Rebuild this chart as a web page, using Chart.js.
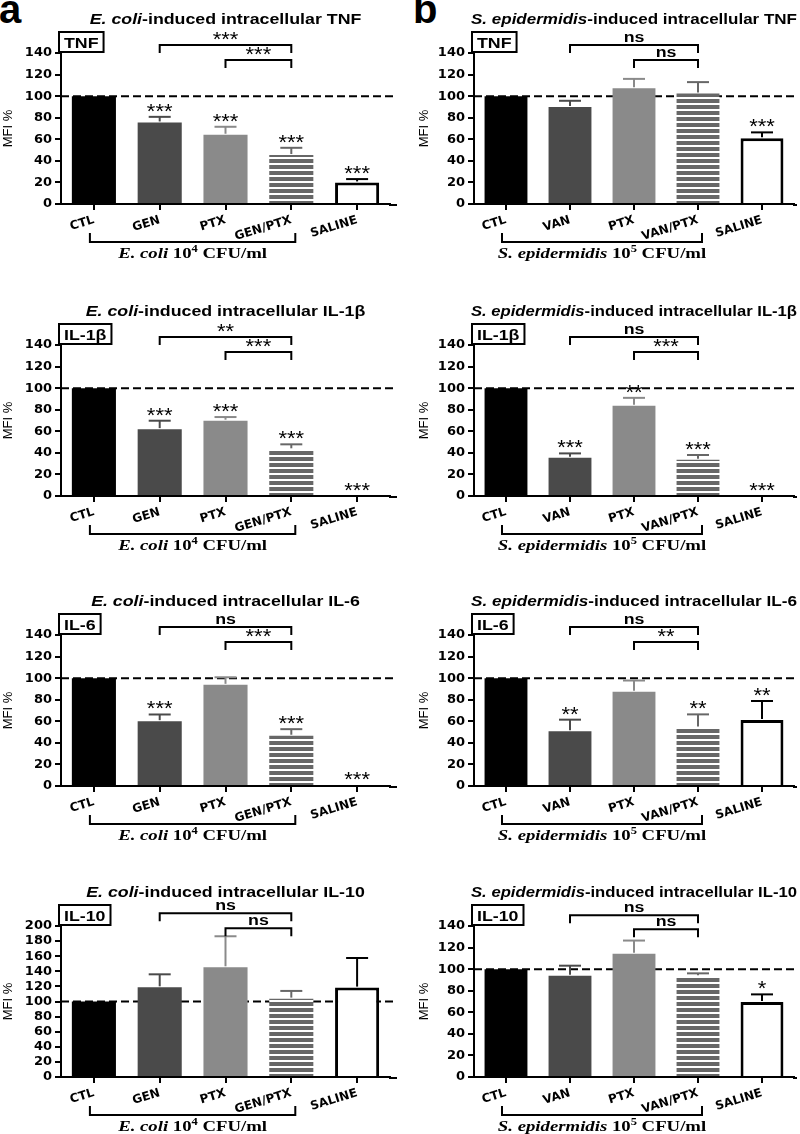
<!DOCTYPE html>
<html>
<head>
<meta charset="utf-8">
<script src="https://cdn.jsdelivr.net/npm/chart.js@4.4.1/dist/chart.umd.min.js"></script>
<style>
  body { margin: 0; background: #fff; }
  #page { position: relative; width: 800px; height: 1134px; overflow: hidden; background: #fff; }
  #page canvas { position: absolute; }
  .letter { position: absolute; font: bold 40px "Liberation Sans", Arial, sans-serif; line-height: 40px; color: #000; }
</style>
</head>
<body>
<div id="page">
  <div class="letter" style="left:-1px; top:-11px">a</div>
  <div class="letter" style="left:413px; top:-11px">b</div>
</div>
<script>
// categories
const ecoliGroups = ['CTL', 'GEN', 'PTX', 'GEN/PTX', 'SALINE'];
const sepiGroups = ['CTL', 'VAN', 'PTX', 'VAN/PTX', 'SALINE'];
const cytokines = ['TNF', 'IL-1β', 'IL-6', 'IL-10'];

// column a: E. coli, MFI % (mean) and SEM
const ecoliTnf = [100, 75.6, 64.2, 45.4, 20];
const ecoliTnfSem = [0, 5.2, 7.4, 6.7, 3.1];
const ecoliTnfStars = ['', '***', '***', '***', '***'];
const ecoliTnfPairs = ['***', '***'];

const ecoliIl1b = [100, 62, 69.8, 43.3, 0];
const ecoliIl1bSem = [0, 7.8, 3.4, 4.6, 0];
const ecoliIl1bStars = ['', '***', '***', '***', '***'];
const ecoliIl1bPairs = ['**', '***'];

const ecoliIl6 = [100, 60.1, 93.8, 46.6, 1];
const ecoliIl6Sem = [0, 6.2, 7, 6.1, 0];
const ecoliIl6Stars = ['', '***', '', '***', '***'];
const ecoliIl6Pairs = ['ns', '***'];

const ecoliIl10 = [100, 118.8, 145.3, 103.8, 118.4];
const ecoliIl10Sem = [0, 17.2, 41.1, 10.2, 39.2];
const ecoliIl10Stars = ['', '', '', '', ''];
const ecoliIl10Pairs = ['ns', 'ns'];

// column b: S. epidermidis
const sepiTnf = [100, 90, 107.4, 102.5, 61];
const sepiTnfSem = [0, 5.7, 8.6, 10.5, 5.4];
const sepiTnfStars = ['', '', '', '', '***'];
const sepiTnfPairs = ['ns', 'ns'];

const sepiIl1b = [100, 35.5, 83.7, 33.7, 0];
const sepiIl1bSem = [0, 4, 7.3, 4.3, 0];
const sepiIl1bStars = ['', '***', '**', '***', '***'];
const sepiIl1bPairs = ['ns', '***'];

const sepiIl6 = [100, 50.7, 87.4, 54.2, 61.3];
const sepiIl6Sem = [0, 10.8, 10.4, 12.2, 17.5];
const sepiIl6Stars = ['', '**', '', '**', '**'];
const sepiIl6Pairs = ['ns', '**'];

const sepiIl10 = [100, 93.8, 114.2, 93.4, 69.5];
const sepiIl10Sem = [0, 9.4, 12.3, 2.7, 7.1];
const sepiIl10Stars = ['', '', '', '', '*'];
const sepiIl10Pairs = ['ns', 'ns'];

// y axis ranges and bracket heights (MFI %)
const yMax140 = 140;
const yMax200 = 200;
const levels140 = [147.5, 133.5];
const levelsEcoliIl10 = [217, 197];
const levelsSepiIl10 = [150, 137];

const SANS = '"Liberation Sans", Arial, sans-serif';
const SERIF = '"Liberation Serif", "Times New Roman", serif';
const colLeft = [0, 400];
const rowTop = [3, 295, 585, 876];
const errColors = ['#000', '#4a4a4a', '#8a8a8a', '#676767', '#000'];

const organisms = [
  { name: 'E. coli', exp: '4', groups: ecoliGroups, padL: 1, yW: 60, padR: 10, titleFit: 0 },
  { name: 'S. epidermidis', exp: '5', groups: sepiGroups, padL: 17, yW: 57, padR: 6, titleFit: 326 }
];

const panels = [
  { col: 0, row: 0, values: ecoliTnf, sem: ecoliTnfSem, stars: ecoliTnfStars, pairs: ecoliTnfPairs, levels: levels140, yMax: yMax140 },
  { col: 1, row: 0, values: sepiTnf, sem: sepiTnfSem, stars: sepiTnfStars, pairs: sepiTnfPairs, levels: levels140, yMax: yMax140 },
  { col: 0, row: 1, values: ecoliIl1b, sem: ecoliIl1bSem, stars: ecoliIl1bStars, pairs: ecoliIl1bPairs, levels: levels140, yMax: yMax140 },
  { col: 1, row: 1, values: sepiIl1b, sem: sepiIl1bSem, stars: sepiIl1bStars, pairs: sepiIl1bPairs, levels: levels140, yMax: yMax140 },
  { col: 0, row: 2, values: ecoliIl6, sem: ecoliIl6Sem, stars: ecoliIl6Stars, pairs: ecoliIl6Pairs, levels: levels140, yMax: yMax140 },
  { col: 1, row: 2, values: sepiIl6, sem: sepiIl6Sem, stars: sepiIl6Stars, pairs: sepiIl6Pairs, levels: levels140, yMax: yMax140 },
  { col: 0, row: 3, values: ecoliIl10, sem: ecoliIl10Sem, stars: ecoliIl10Stars, pairs: ecoliIl10Pairs, levels: levelsEcoliIl10, yMax: yMax200 },
  { col: 1, row: 3, values: sepiIl10, sem: sepiIl10Sem, stars: sepiIl10Stars, pairs: sepiIl10Pairs, levels: levelsSepiIl10, yMax: yMax140 }
];

function measureRich(ctx, parts) {
  let total = 0;
  parts.forEach(p => { ctx.font = p.font; p.w = ctx.measureText(p.text).width; total += p.w; });
  return total;
}

function drawRich(ctx, parts, cx, baseline, sx) {
  const total = measureRich(ctx, parts);
  let x = cx - total * sx / 2;
  parts.forEach(p => {
    ctx.save();
    ctx.font = p.font;
    ctx.textAlign = 'left';
    ctx.textBaseline = 'alphabetic';
    ctx.translate(x, baseline + (p.dy || 0));
    ctx.scale(sx, 1);
    ctx.fillText(p.text, 0, 0);
    ctx.restore();
    x += p.w * sx;
  });
}

function line(ctx, x1, y1, x2, y2) {
  ctx.beginPath();
  ctx.moveTo(x1, y1);
  ctx.lineTo(x2, y2);
  ctx.stroke();
}

function annotations(panel, org) {
  return {
    id: 'annotations',
    beforeDatasetsDraw(chart) {
      const { ctx, chartArea, scales: { y } } = chart;
      const yy = y.getPixelForValue(100);
      ctx.save();
      ctx.strokeStyle = '#000';
      ctx.lineWidth = 2;
      // x axis runs on a little past the last category
      line(ctx, chartArea.right - 1, chartArea.bottom + 1, chart.width - 3, chartArea.bottom + 1);
      ctx.setLineDash([8, 4]);
      line(ctx, chartArea.left, yy, chart.width - 3, yy);
      ctx.restore();
    },
    afterDatasetsDraw(chart) {
      const { ctx, chartArea, scales: { y } } = chart;
      const bars = chart.getDatasetMeta(0).data;
      ctx.save();
      ctx.fillStyle = '#000';

      // error bars + stars
      bars.forEach((bar, i) => {
        const top = panel.values[i] + panel.sem[i];
        const y0 = y.getPixelForValue(panel.values[i]);
        const y1 = y.getPixelForValue(top);
        if (panel.sem[i] > 0) {
          ctx.strokeStyle = errColors[i];
          ctx.lineWidth = 2;
          line(ctx, bar.x, y0 - 1, bar.x, y1);
          line(ctx, bar.x - 11, y1, bar.x + 11, y1);
        }
        if (panel.stars[i]) {
          drawRich(ctx, [{ text: panel.stars[i], font: `21px ${SANS}` }], bar.x, y1 + 1, 1.05);
        }
      });

      // comparison brackets
      ctx.strokeStyle = '#000';
      ctx.lineWidth = 2;
      [[1, 3], [2, 3]].forEach(([a, b], k) => {
        const ly = y.getPixelForValue(panel.levels[k]);
        const xa = bars[a].x, xb = bars[b].x;
        ctx.beginPath();
        ctx.moveTo(xa, ly + 8);
        ctx.lineTo(xa, ly);
        ctx.lineTo(xb, ly);
        ctx.lineTo(xb, ly + 8);
        ctx.stroke();
        const label = panel.pairs[k];
        if (label === 'ns') {
          drawRich(ctx, [{ text: label, font: `bold 14px ${SANS}` }], (xa + xb) / 2, ly - 3, 1.27);
        } else {
          drawRich(ctx, [{ text: label, font: `21px ${SANS}` }], (xa + xb) / 2, ly + 1, 1.05);
        }
      });

      // title
      const cx = (chartArea.left + chartArea.right) / 2;
      const title = [
        { text: org.name, font: `italic bold 14px ${SANS}` },
        { text: '-induced intracellular ' + cytokines[panel.row], font: `bold 14px ${SANS}` }
      ];
      const tsx = org.titleFit ? org.titleFit / measureRich(ctx, title) : 1.27;
      drawRich(ctx, title, cx, chartArea.top - 29, tsx);

      // cytokine box
      ctx.font = `bold 14px ${SANS}`;
      const tw = ctx.measureText(cytokines[panel.row]).width * 1.27;
      const bx = chartArea.left - 2, by = chartArea.top - 21, bw = tw + 10, bh = 20;
      ctx.fillStyle = '#fff';
      ctx.fillRect(bx, by, bw, bh);
      ctx.strokeRect(bx, by, bw, bh);
      ctx.fillStyle = '#000';
      drawRich(ctx, [{ text: cytokines[panel.row], font: `bold 14px ${SANS}` }], bx + bw / 2, chartArea.top - 5, 1.27);

      // inoculum bracket under the infected groups
      const gy = chartArea.bottom + 38;
      const gx1 = bars[0].x - 4, gx2 = bars[3].x + 4;
      ctx.beginPath();
      ctx.moveTo(gx1, gy - 9);
      ctx.lineTo(gx1, gy);
      ctx.lineTo(gx2, gy);
      ctx.lineTo(gx2, gy - 9);
      ctx.stroke();
      drawRich(ctx, [
        { text: org.name, font: `italic bold 15px ${SERIF}` },
        { text: ' 10', font: `bold 15px ${SERIF}` },
        { text: org.exp, font: `bold 10px ${SERIF}`, dy: -6 },
        { text: ' CFU/ml', font: `bold 15px ${SERIF}` }
      ], (gx1 + gx2) / 2, chartArea.bottom + 54, 1.25);
      ctx.restore();
    }
  };
}

const page = document.getElementById('page');

panels.forEach(panel => {
  const org = organisms[panel.col];
  const canvas = document.createElement('canvas');
  canvas.width = 400;
  canvas.height = 270;
  canvas.style.left = colLeft[panel.col] + 'px';
  canvas.style.top = rowTop[panel.row] + 'px';
  page.appendChild(canvas);

  const ctx = canvas.getContext('2d');
  const tile = document.createElement('canvas');
  tile.width = 4;
  tile.height = 6;
  const t = tile.getContext('2d');
  t.fillStyle = '#fff';
  t.fillRect(0, 0, 4, 6);
  t.fillStyle = '#676767';
  t.fillRect(0, 0, 4, 4);
  const stripes = ctx.createPattern(tile, 'repeat');

  new Chart(ctx, {
    type: 'bar',
    data: {
      labels: org.groups,
      datasets: [{
        data: panel.values,
        backgroundColor: ['#000000', '#4a4a4a', '#8a8a8a', stripes, '#ffffff'],
        borderColor: '#000',
        borderWidth: [0, 0, 0, 0, 3],
        borderSkipped: 'start',
        barPercentage: 0.67,
        categoryPercentage: 1
      }]
    },
    options: {
      responsive: false,
      animation: false,
      layout: { padding: { left: org.padL, right: org.padR, top: 50, bottom: 0 } },
      plugins: { legend: { display: false }, tooltip: { enabled: false } },
      scales: {
        x: {
          ticks: {
            font: { family: 'DejaVu Sans', weight: 'bold', size: 12 },
            color: '#000',
            minRotation: 17,
            maxRotation: 17,
            autoSkip: false,
            padding: 3
          },
          grid: { offset: false, drawOnChartArea: false, tickLength: 6, color: '#000', lineWidth: 2 },
          border: { color: '#000', width: 2 },
          afterFit(scale) { scale.height = 69; }
        },
        y: {
          min: 0,
          max: panel.yMax,
          ticks: {
            stepSize: 20,
            autoSkip: false,
            font: { family: 'DejaVu Sans', weight: 'bold', size: 13, lineHeight: 1 },
            color: '#000',
            padding: 3
          },
          grid: { drawOnChartArea: false, tickLength: 6, color: '#000', lineWidth: 2 },
          border: { color: '#000', width: 2 },
          title: { display: true, text: 'MFI %', color: '#000', font: { family: 'Liberation Sans', size: 13 }, padding: 0 },
          afterFit(scale) { scale.width = org.yW; }
        }
      }
    },
    plugins: [annotations(panel, org)]
  });
});
</script>
</body>
</html>
